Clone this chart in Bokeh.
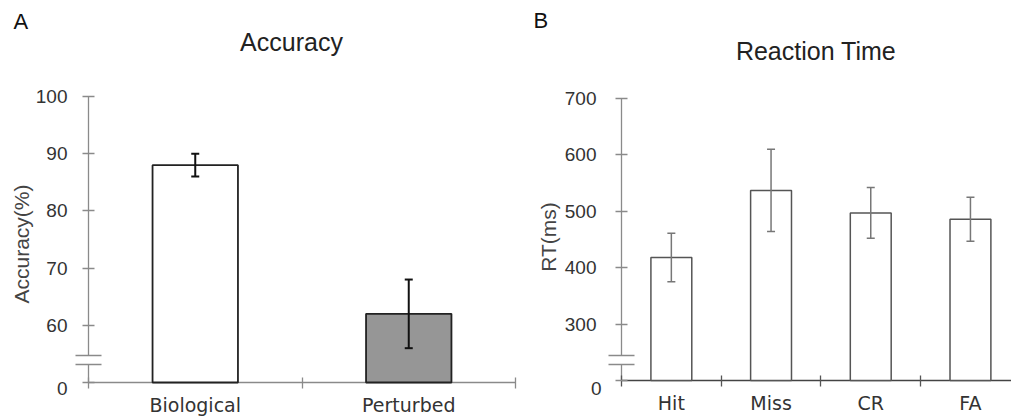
import math
from bokeh.plotting import figure
from bokeh.layouts import row
from bokeh.models import Range1d, FixedTicker, Whisker, TeeHead, ColumnDataSource
from bokeh.embed import file_html
from bokeh.resources import INLINE
from bokeh.core.properties import value

# ---------------- data ----------------
acc_title = "Accuracy"
acc_ylabel = "Accuracy(%)"
acc_categories = ["Biological", "Perturbed"]
acc_values = [88, 62]
acc_errors = [2, 6]
acc_fill = ["white", "#969696"]
acc_ticks = [60, 70, 80, 90, 100]
acc_base = 50          # broken axis: this level is labelled "0"
acc_base_label = "0"

rt_title = "Reaction Time"
rt_ylabel = "RT(ms)"
rt_categories = ["Hit", "Miss", "CR", "FA"]
rt_values = [418, 537, 497, 486]
rt_errors = [43, 73, 45, 39]
rt_ticks = [300, 400, 500, 600, 700]
rt_base = 200          # broken axis: this level is labelled "0"
rt_base_label = "0"

# ---------------- style / layout ----------------
AX = "#8a8a8a"
TXT = "#333333"
FONT = "Liberation Sans"
CAT_FONT = "DejaVu Sans"
TOP = 0
H = 417


class Geo:
    """pixel geometry of one panel (picture coordinates)"""
    def __init__(self, fig_left, width, ox, oy, kx, ky, base):
        self.fig_left, self.width = fig_left, width
        self.ox, self.oy, self.kx, self.ky, self.base = ox, oy, kx, ky, base

    def x(self, px):
        return (px - self.ox) / self.kx

    def y(self, py):
        return self.base + (self.oy - py) / self.ky

    def xr(self):
        return Range1d(self.x(self.fig_left), self.x(self.fig_left + self.width))

    def yr(self):
        return Range1d(self.y(TOP + H), self.y(TOP))


def make_fig(g):
    p = figure(width=g.width, height=H, x_range=g.xr(), y_range=g.yr(),
               output_backend="svg", toolbar_location=None,
               min_border_left=0, min_border_right=0, min_border_top=0, min_border_bottom=0)
    p.outline_line_color = None
    p.grid.visible = False
    return p


def style_yaxis(p, g, ticks, standoff, base_label, base_label_px):
    ya = p.yaxis[0]
    ya.fixed_location = 0
    ya.ticker = FixedTicker(ticks=[g.base] + ticks)
    ya.major_label_overrides = {g.base: ""}
    ya.axis_line_color = None
    ya.major_tick_line_color = AX
    ya.major_tick_line_width = 1.3
    ya.major_tick_in = 6
    ya.major_tick_out = 6
    ya.minor_tick_line_color = None
    ya.major_label_text_font = FONT
    ya.major_label_text_font_size = "19px"
    ya.major_label_text_color = TXT
    ya.major_label_standoff = standoff
    # the "0" of the broken axis sits a little below its tick, as in the original
    p.text(x=[g.x(base_label_px[0])], y=[g.y(base_label_px[1])], text=[base_label],
           text_font=value(FONT), text_font_size="19px", text_color=TXT,
           text_align="right", text_baseline="middle")


def style_xaxis(p, g, xs, cats, color):
    xa = p.xaxis[0]
    xa.fixed_location = g.base
    xa.ticker = FixedTicker(ticks=xs, minor_ticks=list(range(len(cats) + 1)))
    xa.major_label_overrides = {x: c for x, c in zip(xs, cats)}
    xa.axis_line_color = None
    xa.major_tick_line_color = None
    xa.major_tick_in = 0
    xa.major_tick_out = 0
    xa.minor_tick_line_color = color
    xa.minor_tick_line_width = 1.3
    xa.minor_tick_in = 5
    xa.minor_tick_out = 6
    xa.major_label_text_font = CAT_FONT
    xa.major_label_text_font_size = "19px"
    xa.major_label_text_color = TXT
    xa.major_label_standoff = 5


def axis_lines(p, g, y_top, x_end, xcolor):
    lo, hi = g.y(364), g.y(355)          # axis break
    # y axis with a gap
    p.segment(x0=[0, 0], y0=[g.base, hi], x1=[0, 0], y1=[lo, y_top], line_color=AX, line_width=1.3)
    # break marks
    p.segment(x0=[g.x(g.ox - 13)] * 2, y0=[lo, hi], x1=[g.x(g.ox + 13)] * 2, y1=[lo, hi],
              line_color=AX, line_width=1.5)
    # x axis
    p.segment(x0=[0], y0=[g.base], x1=[x_end], y1=[g.base], line_color=xcolor, line_width=1.3)


def whiskers(p, xs, vals, errs, color, lw):
    src = ColumnDataSource(data=dict(x=xs,
                                     lower=[v - e for v, e in zip(vals, errs)],
                                     upper=[v + e for v, e in zip(vals, errs)]))
    w = Whisker(base="x", lower="lower", upper="upper", source=src, line_color=color, line_width=lw,
                level="overlay",
                upper_head=TeeHead(size=8, line_color=color, line_width=lw),
                lower_head=TeeHead(size=8, line_color=color, line_width=lw))
    p.add_layout(w)


def texts(p, g, letter, letter_px, title, title_px, ylabel, ylabel_px):
    p.text(x=[g.x(letter_px[0])], y=[g.y(letter_px[1])], text=[letter],
           text_font=value(FONT), text_font_size="22px", text_color="#111111",
           text_align="left", text_baseline="middle")
    p.text(x=[g.x(title_px[0])], y=[g.y(title_px[1])], text=[title],
           text_font=value(FONT), text_font_size="25px", text_color="#222222",
           text_align="center", text_baseline="middle")
    p.text(x=[g.x(ylabel_px[0])], y=[g.y(ylabel_px[1])], text=[ylabel], angle=math.pi / 2,
           text_font=value(FONT), text_font_size="21px", text_color="#444444",
           text_align="center", text_baseline="middle")


# ---------------- panel A ----------------
gA = Geo(fig_left=0, width=520, ox=88, oy=382, kx=213.5, ky=5.72, base=acc_base)
pA = make_fig(gA)
xA = [i + 0.5 for i in range(len(acc_categories))]
axis_lines(pA, gA, y_top=acc_ticks[-1], x_end=len(acc_categories), xcolor=AX)
pA.vbar(x=xA, top=acc_values, bottom=acc_base, width=0.4, fill_color=acc_fill,
        line_color="#222222", line_width=1.8)
whiskers(pA, xA, acc_values, acc_errors, "#111111", 2)
style_yaxis(pA, gA, acc_ticks, 15, acc_base_label, (67, 388))
style_xaxis(pA, gA, xA, acc_categories, AX)
texts(pA, gA, "A", (13, 20.5), acc_title, (291, 41.5), acc_ylabel, (20.5, 243.5))

# ---------------- panel B ----------------
gB = Geo(fig_left=520, width=491, ox=621, oy=380, kx=99.7, ky=0.564, base=rt_base)
pB = make_fig(gB)
xB = [i + 0.5 for i in range(len(rt_categories))]
axis_lines(pB, gB, y_top=rt_ticks[-1], x_end=len(rt_categories), xcolor="#444444")
pB.vbar(x=xB, top=rt_values, bottom=rt_base, width=0.41, fill_color="white",
        line_color="#555555", line_width=1.5)
whiskers(pB, xB, rt_values, rt_errors, "#777777", 1.5)
style_yaxis(pB, gB, rt_ticks, 19, rt_base_label, (601, 388))
style_xaxis(pB, gB, xB, rt_categories, "#555555")
texts(pB, gB, "B", (533, 20), rt_title, (815.5, 50), rt_ylabel, (548, 236.5))

layout = row(pA, pB, spacing=0)
open("out.html", "w").write(file_html(layout, INLINE, "Accuracy and Reaction Time"))
